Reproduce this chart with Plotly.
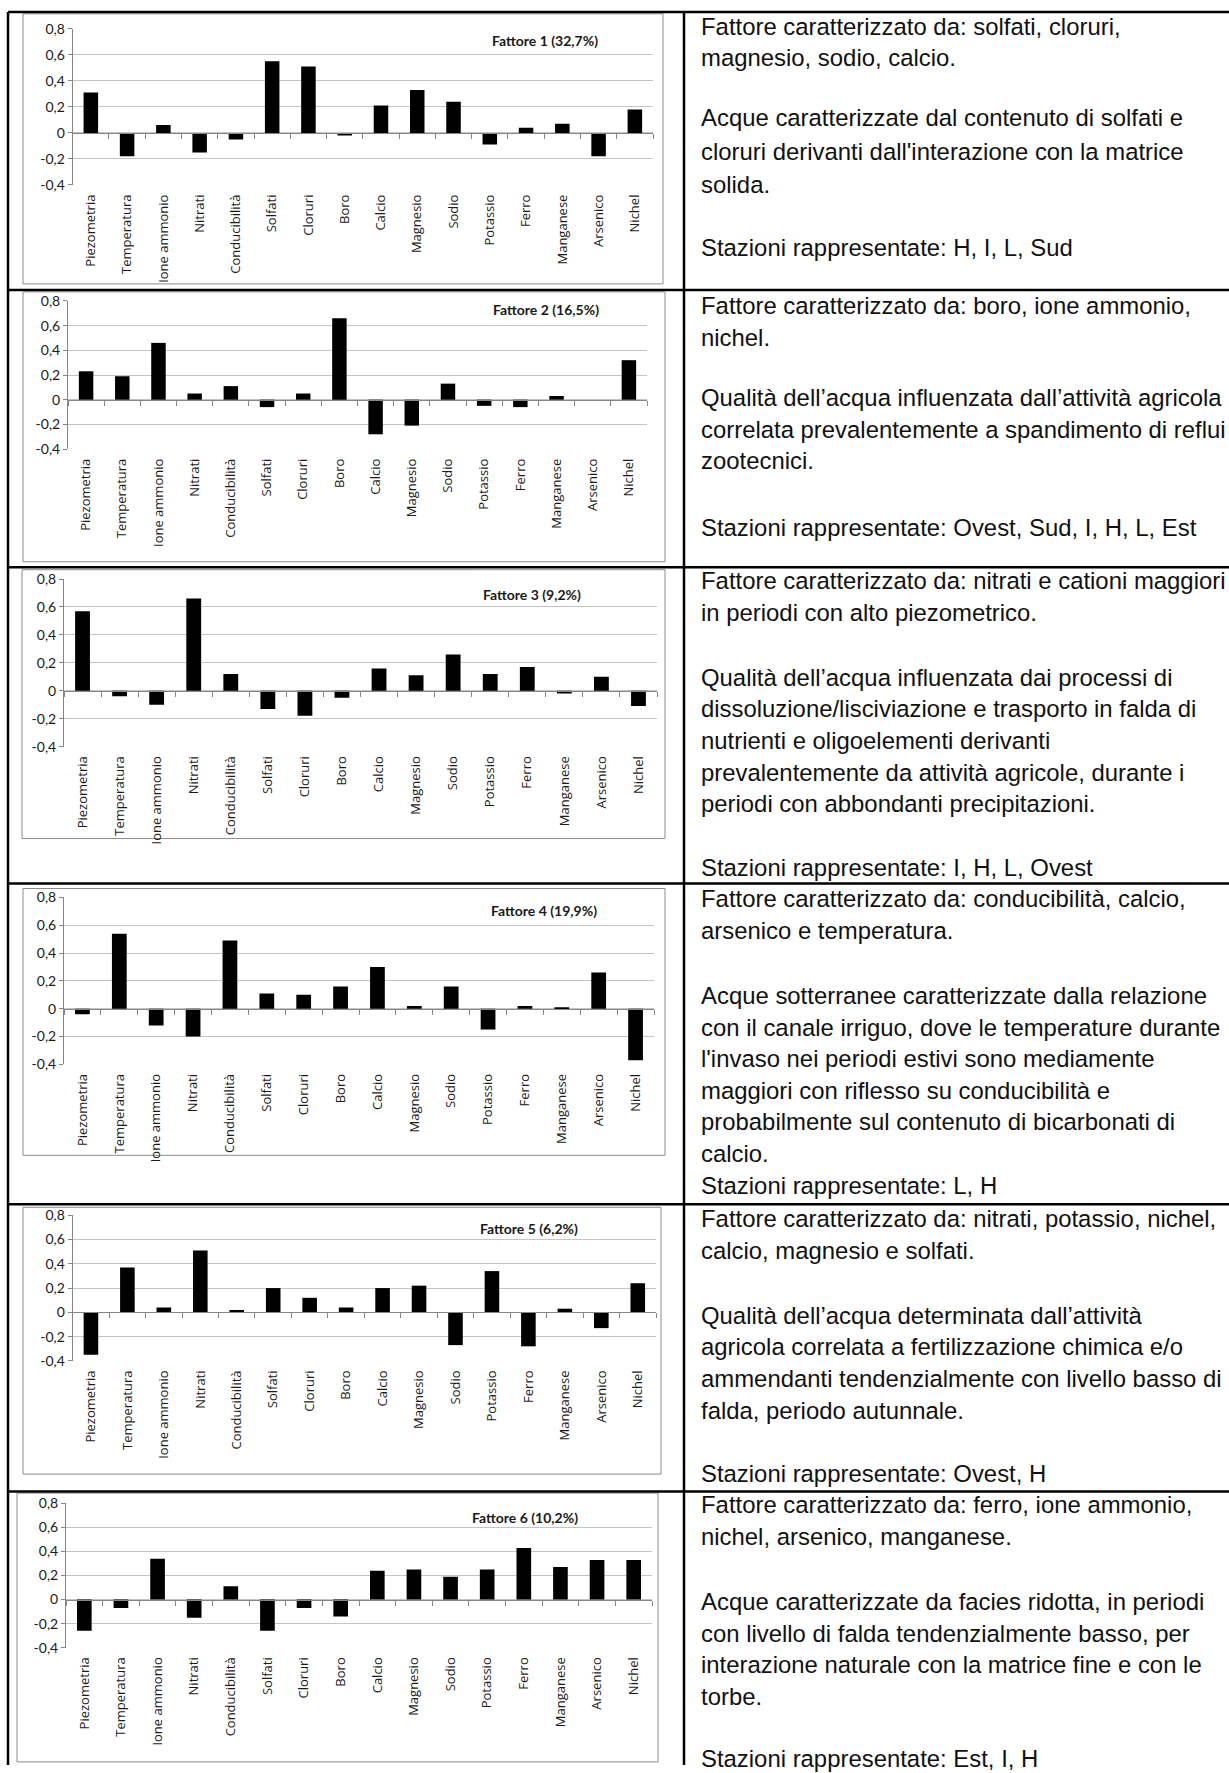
import plotly.graph_objects as go

# ---------------- data ----------------
categories = ["Piezometria", "Temperatura", "Ione ammonio", "Nitrati", "Conducibilità",
              "Solfati", "Cloruri", "Boro", "Calcio", "Magnesio", "Sodio", "Potassio",
              "Ferro", "Manganese", "Arsenico", "Nichel"]

fattore1 = [0.31, -0.18, 0.06, -0.15, -0.05, 0.55, 0.51, -0.02, 0.21, 0.33, 0.24, -0.09, 0.04, 0.07, -0.18, 0.18]
fattore2 = [0.23, 0.19, 0.46, 0.05, 0.11, -0.06, 0.05, 0.66, -0.28, -0.21, 0.13, -0.05, -0.06, 0.03, 0.00, 0.32]
fattore3 = [0.57, -0.04, -0.10, 0.66, 0.12, -0.13, -0.18, -0.05, 0.16, 0.11, 0.26, 0.12, 0.17, -0.02, 0.10, -0.11]
fattore4 = [-0.04, 0.54, -0.12, -0.20, 0.49, 0.11, 0.10, 0.16, 0.30, 0.02, 0.16, -0.15, 0.02, 0.01, 0.26, -0.37]
fattore5 = [-0.35, 0.37, 0.04, 0.51, 0.02, 0.20, 0.12, 0.04, 0.20, 0.22, -0.27, 0.34, -0.28, 0.03, -0.13, 0.24]
fattore6 = [-0.26, -0.07, 0.34, -0.15, 0.11, -0.26, -0.07, -0.14, 0.24, 0.25, 0.19, 0.25, 0.43, 0.27, 0.33, 0.33]

chart_titles = ["Fattore 1 (32,7%)", "Fattore 2 (16,5%)", "Fattore 3 (9,2%)",
                "Fattore 4 (19,9%)", "Fattore 5 (6,2%)", "Fattore 6 (10,2%)"]

ytick_values = [-0.4, -0.2, 0, 0.2, 0.4, 0.6, 0.8]
ytick_labels = ["-0,4", "-0,2", "0", "0,2", "0,4", "0,6", "0,8"]

descr1 = ["Fattore caratterizzato da: solfati, cloruri,",
          "magnesio, sodio, calcio.",
          "Acque caratterizzate dal contenuto di solfati e",
          "cloruri derivanti dall'interazione con la matrice",
          "solida.",
          "Stazioni rappresentate: H, I, L, Sud"]
descr2 = ["Fattore caratterizzato da: boro, ione ammonio,",
          "nichel.",
          "Qualità dell’acqua influenzata dall’attività agricola",
          "correlata prevalentemente a spandimento di reflui",
          "zootecnici.",
          "Stazioni rappresentate: Ovest, Sud, I, H, L, Est"]
descr3 = ["Fattore caratterizzato da: nitrati e cationi maggiori",
          "in periodi con alto piezometrico.",
          "Qualità dell’acqua influenzata dai processi di",
          "dissoluzione/lisciviazione e trasporto in falda di",
          "nutrienti e oligoelementi derivanti",
          "prevalentemente da attività agricole, durante i",
          "periodi con abbondanti precipitazioni.",
          "Stazioni rappresentate: I, H, L, Ovest"]
descr4 = ["Fattore caratterizzato da: conducibilità, calcio,",
          "arsenico e temperatura.",
          "Acque sotterranee caratterizzate dalla relazione",
          "con il canale irriguo, dove le temperature durante",
          "l'invaso nei periodi estivi sono mediamente",
          "maggiori con riflesso su conducibilità e",
          "probabilmente sul contenuto di bicarbonati di",
          "calcio.",
          "Stazioni rappresentate: L, H"]
descr5 = ["Fattore caratterizzato da: nitrati, potassio, nichel,",
          "calcio, magnesio e solfati.",
          "Qualità dell’acqua determinata dall’attività",
          "agricola correlata a fertilizzazione chimica e/o",
          "ammendanti tendenzialmente con livello basso di",
          "falda, periodo autunnale.",
          "Stazioni rappresentate: Ovest, H"]
descr6 = ["Fattore caratterizzato da: ferro, ione ammonio,",
          "nichel, arsenico, manganese.",
          "Acque caratterizzate da facies ridotta, in periodi",
          "con livello di falda tendenzialmente basso, per",
          "interazione naturale con la matrice fine e con le",
          "torbe.",
          "Stazioni rappresentate: Est, I, H"]

series = [fattore1, fattore2, fattore3, fattore4, fattore5, fattore6]
descriptions = [descr1, descr2, descr3, descr4, descr5, descr6]

# ---------------- layout geometry (pixels) ----------------
W, H = 1229, 1773
YC, YS = 886.0, 1.009   # small vertical stretch about the middle of the page


def fx(px):
    return px / W


def fy(py):
    return 1 - (YC + (py - YC) * YS) / H


# plot: (left, right, y of 0.8 line, y of -0.4 line); frame: (x0, x1, y0, y1)
geom = [
    dict(plot=(72.7, 653, 27.7, 184), frame=(23, 663, 12.7, 283), box=(482, 645), title=(490, 39)),
    dict(plot=(68, 647, 300, 448.3), frame=(23, 665, 291, 561), box=(484, 650), title=(491, 309)),
    dict(plot=(64, 657, 578.3, 746), frame=(22, 665, 569, 838), box=(473, 658), title=(481, 594)),
    dict(plot=(64, 654, 897, 1064), frame=(23, 665, 888, 1155), box=(482, 614), title=(489, 910)),
    dict(plot=(72.7, 656, 1215, 1360.7), frame=(23, 661, 1207, 1474), box=(469, 658), title=(478, 1228)),
    dict(plot=(66, 652, 1503.3, 1647.7), frame=(17, 658, 1493, 1762), box=(462, 645), title=(470, 1517)),
]

text_baselines = [
    [33.3, 65, 125, 158.7, 192.3, 255],
    [313.3, 345, 405, 436.7, 468.3, 535],
    [588.3, 620, 685, 716.7, 748.3, 780, 811.7, 875],
    [906, 938, 1003.3, 1035, 1066.7, 1098.3, 1130, 1161.7, 1193.3],
    [1227, 1259, 1323.3, 1355, 1386.7, 1418.3, 1481.7],
    [1513, 1545, 1610, 1641.7, 1673.3, 1705, 1766.5],
]

row_lines_y = [11, 289, 566.5, 883, 1204, 1491.5]
TABLE_LEFT, TABLE_DIV = 8, 684
TEXT_X = 699
TEXT_FS = 23.9

AX_GRAY = "#868686"
GRID_GRAY = "#c4c4c4"

fig = go.Figure()
shapes = []
annotations = []
layout_axes = {}

n = len(series)
for i, (vals, g) in enumerate(zip(series, geom)):
    k = i + 1
    xa = "x" if k == 1 else f"x{k}"
    ya = "y" if k == 1 else f"y{k}"
    xo = f"x{k + n}"
    left, right, ytop, ybot = g["plot"]
    ymin, ymax = -0.4, 0.8

    def vy(v, ytop=ytop, ybot=ybot):
        return ytop + (ymax - v) / (ymax - ymin) * (ybot - ytop)

    fig.add_trace(go.Bar(x=categories, y=vals, xaxis=xa, yaxis=ya,
                         marker=dict(color="#000000", line=dict(width=0)),
                         showlegend=False, hoverinfo="skip"))
    fig.add_trace(go.Scatter(x=categories, y=[None] * len(categories), xaxis=xo, yaxis=ya,
                             mode="markers", showlegend=False, hoverinfo="skip"))

    layout_axes[("xaxis" if k == 1 else f"xaxis{k}")] = dict(
        domain=[fx(left), fx(right)], anchor=ya, type="category",
        categoryorder="array", categoryarray=categories, range=[-0.5, 15.5],
        tickangle=-90, ticks="", showline=False, showgrid=False, zeroline=False,
        tickfont=dict(family="Open Sans", size=13, color="#1a1a1a"),
        ticklabelstandoff=6, fixedrange=True)
    layout_axes[f"xaxis{k + n}"] = dict(
        overlaying=xa, anchor="free", position=fy(vy(0)), type="category",
        categoryorder="array", categoryarray=categories, range=[-0.5, 15.5],
        showticklabels=False, ticks="outside", ticklen=5, tickcolor=AX_GRAY, tickwidth=1,
        tickson="boundaries", showline=True, linecolor=AX_GRAY, linewidth=1,
        showgrid=False, zeroline=False, fixedrange=True)
    layout_axes[("yaxis" if k == 1 else f"yaxis{k}")] = dict(
        domain=[fy(ybot), fy(ytop)], anchor=xa, range=[ymin, ymax],
        tickmode="array", tickvals=ytick_values, ticktext=ytick_labels,
        showgrid=True, gridcolor=GRID_GRAY, gridwidth=1, zeroline=False,
        showline=True, linecolor=AX_GRAY, linewidth=1,
        ticks="outside", ticklen=4, tickcolor=AX_GRAY,
        tickfont=dict(family="Lato", size=14, color="#1a1a1a"), fixedrange=True)

    # chart frame
    fx0, fx1, fy0, fy1 = g["frame"]
    shapes.append(dict(type="rect", xref="paper", yref="paper",
                       x0=fx(fx0), x1=fx(fx1), y0=fy(fy1), y1=fy(fy0),
                       line=dict(color="#8c8c8c", width=1), fillcolor="rgba(0,0,0,0)",
                       layer="below"))
    # white box behind the chart title (breaks gridlines)
    bx0, bx1 = g["box"]
    shapes.append(dict(type="rect", xref="paper", yref="paper",
                       x0=fx(bx0), x1=fx(bx1), y0=fy(vy(0.5)), y1=fy(vy(0.86)),
                       line=dict(width=0), fillcolor="white", layer="between"))
    tx, tyc = g["title"]
    annotations.append(dict(text=f"<b>{chart_titles[i]}</b>", xref="paper", yref="paper",
                            x=fx(tx), y=fy(tyc), xanchor="left", yanchor="middle",
                            showarrow=False,
                            font=dict(family="Lato", size=14, color="#1a1a1a")))

    # description text
    for line, base in zip(descriptions[i], text_baselines[i]):
        annotations.append(dict(text=line, xref="paper", yref="paper",
                                x=fx(TEXT_X), y=fy(base - 0.35 * TEXT_FS),
                                xanchor="left", yanchor="middle", showarrow=False,
                                font=dict(family="Liberation Sans", size=TEXT_FS, color="#111111")))

# table borders
for yl in row_lines_y:
    shapes.append(dict(type="line", xref="paper", yref="paper",
                       x0=fx(TABLE_LEFT), x1=1, y0=fy(yl), y1=fy(yl),
                       line=dict(color="#000000", width=2.5)))
for xl in (TABLE_LEFT, TABLE_DIV):
    shapes.append(dict(type="line", xref="paper", yref="paper",
                       x0=fx(xl), x1=fx(xl), y0=fy(row_lines_y[0]), y1=0,
                       line=dict(color="#000000", width=2.5)))

fig.update_layout(
    width=W, height=H, margin=dict(l=0, r=0, t=0, b=0),
    paper_bgcolor="white", plot_bgcolor="white",
    bargap=0.6, showlegend=False,
    shapes=shapes, annotations=annotations,
    **layout_axes,
)

page_fix = (
    "var de=document.documentElement, b=document.body;"
    "de.style.margin='0';de.style.padding='0';de.style.overflow='hidden';"
    "b.style.margin='0';b.style.padding='0';b.style.overflow='hidden';"
    "var g=document.getElementsByClassName('plotly-graph-div')[0];"
    "if(g){g.style.position='absolute';g.style.left='0px';g.style.top='0px';}"
)

fig.write_html("out.html", config={"displayModeBar": False}, post_script=page_fix)
